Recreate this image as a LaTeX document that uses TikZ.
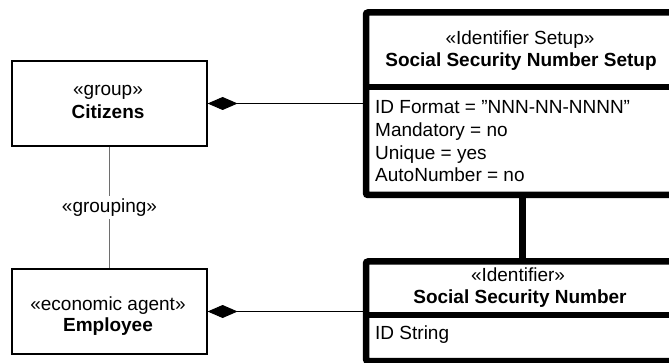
\documentclass[tikz,border=0pt]{standalone}
\usepackage{fontspec}
\setmainfont{Liberation Sans}
\usetikzlibrary{arrows.meta}
\definecolor{linegray}{HTML}{6E6E6E}
\begin{document}
\begin{tikzpicture}[x=1pt,y=-1pt,
  every node/.style={font=\fontsize{19}{23}\selectfont, inner sep=0pt},
  leftbox/.style={draw, line width=1.2pt, minimum width=195pt, minimum height=85pt},
  idbox/.style={draw, line width=6.5pt, rounded corners=2pt},
  divider/.style={line width=6.5pt},
  ctxt/.style={anchor=base},
  btxt/.style={anchor=base, font=\fontsize{19}{23}\selectfont\bfseries},
  atxt/.style={anchor=base west},
  comp/.style={draw, line width=1pt, {Diamond[length=30pt,width=13pt]}-},
  grp/.style={draw=linegray, line width=1.5pt},
  idlink/.style={line width=7pt}
]
\useasboundingbox (0,0) rectangle (669,363);
\clip (0,0) rectangle (669,363);

% left boxes
\node[leftbox] (citizens) at (109.5,103.5) {};
\node[ctxt] (citizensS) at (108,96) {«group»};
\node[btxt] (citizensN) at (108,118.5) {Citizens};

\node[leftbox] (employee) at (109.5,311.5) {};
\node[ctxt] (employeeS) at (108,310) {«economic agent»};
\node[btxt] (employeeN) at (108,331.5) {Employee};

% identifier setup box
\node[idbox, minimum width=309pt, minimum height=182.5pt] (setup) at (520.5,103.75) {};
\coordinate (d1) at (0,87);
\draw[divider] (setup.west |- d1) -- (setup.east |- d1);
\node[ctxt] (setupS) at (520,45) {«Identifier Setup»};
\node[btxt] (setupN) at (521,66.5) {Social Security Number Setup};
\node[atxt] (a1) at (375,114) {ID Format = ”NNN-NN-NNNN”};
\node[atxt] (a2) at (375,137) {Mandatory = no};
\node[atxt] (a3) at (375,159.5) {Unique = yes};
\node[atxt] (a4) at (375,182) {AutoNumber = no};

% identifier box
\node[idbox, minimum width=309pt, minimum height=99.5pt] (ssn) at (520.5,311.25) {};
\coordinate (d2) at (0,315);
\draw[divider] (ssn.west |- d2) -- (ssn.east |- d2);
\node[ctxt] (ssnS) at (518,282) {«Identifier»};
\node[btxt] (ssnN) at (520,303) {Social Security Number};
\node[atxt] (b1) at (375,339.5) {ID String};

% connectors
\coordinate (vx) at (522,0);
\draw[idlink] (setup.south -| vx) -- (ssn.north -| vx);
\draw[comp] (citizens.east) -- (citizens.east -| setup.west);
\draw[comp] (employee.east) -- (employee.east -| ssn.west);
\draw[grp] (citizens.south) -- node[fill=white, inner xsep=2pt, inner ysep=3pt] (grouping) {«grouping»} (employee.north);
\end{tikzpicture}
\end{document}
